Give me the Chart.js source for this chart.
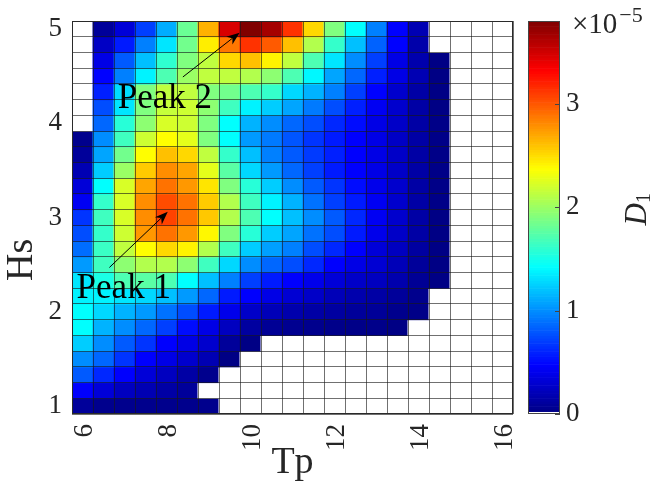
<!DOCTYPE html>
<html>
<head>
<meta charset="utf-8">
<script src="https://cdn.jsdelivr.net/npm/chart.js@4.4.1/dist/chart.umd.min.js"></script>
<style>
  html, body { margin: 0; padding: 0; background: #fff; }
  #wrap { width: 652px; height: 497px; }
</style>
</head>
<body>
<div id="wrap"><canvas id="heatCanvas"></canvas></div>
<script>
// Tp (s), one column each
const tpValues = [6, 6.5, 7, 7.5, 8, 8.5, 9, 9.5, 10, 10.5, 11, 11.5, 12, 12.5, 13, 13.5, 14, 14.5, 15, 15.5, 16];
// Hs (m), one row each, top row first
const hsValues = [5.000, 4.833, 4.667, 4.500, 4.333, 4.167, 4.000, 3.833, 3.667, 3.500, 3.333, 3.167,
                  3.000, 2.833, 2.667, 2.500, 2.333, 2.167, 2.000, 1.833, 1.667, 1.500, 1.333, 1.167, 1.000];

// D1 in units of 1e-5, rows follow hsValues, columns follow tpValues (null = no data, white)
const d1 = [
  [null, 0.10, 0.33, 0.71, 1.12, 1.82, 2.66, 3.47, 3.80, 3.66, 3.14, 2.52, 1.90, 1.43, 0.95, 0.48, 0.19, null, null, null, null],
  [null, 0.26, 0.57, 0.95, 1.33, 1.85, 2.44, 2.88, 3.14, 2.99, 2.61, 2.09, 1.62, 1.19, 0.84, 0.48, 0.16, null, null, null, null],
  [null, 0.38, 0.81, 1.19, 1.60, 1.90, 2.14, 2.52, 2.61, 2.42, 2.14, 1.71, 1.33, 1.00, 0.71, 0.38, 0.17, 0.02, null, null, null],
  [null, 0.48, 0.95, 1.38, 1.71, 2.00, 2.14, 2.14, 2.09, 1.95, 1.71, 1.40, 1.09, 0.86, 0.59, 0.38, 0.19, 0.02, null, null, null],
  [null, 0.59, 1.30, 1.90, 2.14, 2.14, 1.90, 1.85, 1.71, 1.62, 1.28, 1.14, 0.95, 0.71, 0.48, 0.29, 0.14, 0.02, null, null, null],
  [null, 0.76, 1.33, 1.90, 2.16, 2.19, 1.95, 1.66, 1.38, 1.24, 1.09, 0.93, 0.76, 0.59, 0.43, 0.29, 0.14, 0.02, null, null, null],
  [null, 0.86, 1.57, 1.95, 2.23, 2.19, 1.90, 1.43, 1.14, 1.00, 0.86, 0.76, 0.62, 0.52, 0.38, 0.27, 0.14, 0.03, null, null, null],
  [0.05, 1.00, 1.66, 2.19, 2.38, 2.28, 1.90, 1.43, 1.05, 0.93, 0.79, 0.67, 0.57, 0.47, 0.38, 0.26, 0.14, 0.03, null, null, null],
  [0.10, 1.09, 1.85, 2.38, 2.61, 2.52, 2.14, 1.62, 1.19, 0.95, 0.81, 0.69, 0.59, 0.47, 0.38, 0.27, 0.14, 0.03, null, null, null],
  [0.19, 1.24, 2.00, 2.57, 2.80, 2.71, 2.28, 1.76, 1.28, 1.05, 0.86, 0.71, 0.57, 0.47, 0.38, 0.27, 0.14, 0.03, null, null, null],
  [0.33, 1.43, 2.23, 2.71, 2.90, 2.76, 2.47, 1.90, 1.57, 1.24, 1.00, 0.81, 0.67, 0.52, 0.40, 0.29, 0.14, 0.03, null, null, null],
  [0.43, 1.62, 2.23, 2.80, 3.04, 2.90, 2.57, 2.09, 1.66, 1.38, 1.14, 0.90, 0.71, 0.57, 0.43, 0.29, 0.14, 0.03, null, null, null],
  [0.67, 1.66, 2.23, 2.80, 3.08, 2.90, 2.58, 2.09, 1.71, 1.43, 1.19, 1.00, 0.81, 0.62, 0.43, 0.29, 0.14, 0.02, null, null, null],
  [0.76, 1.62, 2.19, 2.76, 2.90, 2.76, 2.40, 1.90, 1.57, 1.24, 1.09, 0.90, 0.76, 0.57, 0.40, 0.27, 0.14, 0.02, null, null, null],
  [0.88, 1.64, 2.14, 2.38, 2.52, 2.42, 2.09, 1.66, 1.24, 1.07, 0.95, 0.76, 0.62, 0.47, 0.33, 0.24, 0.12, 0.02, null, null, null],
  [1.05, 1.66, 1.95, 2.09, 2.09, 1.95, 1.66, 1.28, 1.00, 0.86, 0.76, 0.62, 0.47, 0.38, 0.31, 0.21, 0.10, 0.02, null, null, null],
  [1.33, 1.52, 1.71, 1.76, 1.71, 1.43, 1.19, 0.95, 0.71, 0.57, 0.47, 0.40, 0.33, 0.27, 0.24, 0.17, 0.08, 0.02, null, null, null],
  [1.38, 1.38, 1.33, 1.28, 1.19, 1.05, 0.86, 0.57, 0.47, 0.38, 0.31, 0.27, 0.21, 0.17, 0.14, 0.10, 0.05, null, null, null, null],
  [1.43, 1.28, 1.14, 1.05, 0.90, 0.76, 0.57, 0.40, 0.27, 0.21, 0.17, 0.14, 0.12, 0.10, 0.09, 0.05, 0.03, null, null, null, null],
  [1.43, 1.14, 1.00, 0.86, 0.71, 0.52, 0.38, 0.24, 0.12, 0.08, 0.06, 0.05, 0.04, 0.03, 0.04, 0.02, null, null, null, null, null],
  [1.24, 1.00, 0.81, 0.67, 0.47, 0.38, 0.29, 0.10, 0.02, null, null, null, null, null, null, null, null, null, null, null, null],
  [1.00, 0.86, 0.67, 0.47, 0.38, 0.29, 0.19, 0.02, null, null, null, null, null, null, null, null, null, null, null, null, null],
  [0.81, 0.62, 0.47, 0.33, 0.24, 0.14, 0.05, null, null, null, null, null, null, null, null, null, null, null, null, null, null],
  [0.47, 0.33, 0.24, 0.19, 0.14, 0.10, null, null, null, null, null, null, null, null, null, null, null, null, null, null, null],
  [0.10, 0.05, 0.05, 0.05, 0.05, 0.05, 0.05, null, null, null, null, null, null, null, null, null, null, null, null, null, null]
];

const xTickLabels = [6, 8, 10, 12, 14, 16];
const yTickValues = [1, 2, 3, 4, 5];
const cbTickValues = [0, 1, 2, 3];
const vmax = 3.8; // top of the colour bar (x1e-5)

// annotations, given as [Tp, Hs]
const peakLabels = ['Peak 1', 'Peak 2'];
const peakTextAt = [[5.86, 2.15], [6.84, 4.16]];
const peakArrowFrom = [[6.64, 2.47], [8.39, 4.49]];
const peakArrowTo = [[8.03, 3.06], [9.74, 4.96]];

const serif = '"Liberation Serif", "Times New Roman", serif';
const textColor = '#262626';
const cellLine = 'rgba(25,25,25,0.62)';

function jetRgb(t) {
  const c = x => Math.round(255 * Math.min(1, Math.max(0, x)));
  return [c(1.5 - Math.abs(4 * t - 3)), c(1.5 - Math.abs(4 * t - 2)), c(1.5 - Math.abs(4 * t - 1))];
}
const toCss = rgb => `rgb(${rgb[0]},${rgb[1]},${rgb[2]})`;
const cellColor = v => v === null ? '#ffffff' : toCss(jetRgb(v / vmax));

const halfStep = (hsValues[0] - hsValues[1]) / 2;
const tpStep = tpValues[1] - tpValues[0];
// row edges for the cell grid
const hsEdges = hsValues.map(h => h + halfStep).concat([hsValues[hsValues.length - 1] - halfStep]);

const datasets = hsValues.map((hs, r) => ({
  label: 'Hs ' + hs,
  data: d1[r].map(() => [hs - halfStep, hs + halfStep]),
  backgroundColor: d1[r].map(cellColor),
  borderWidth: 0,
  inflateAmount: 0.5,
  grouped: false,
  categoryPercentage: 1,
  barPercentage: 1
}));

function drawArrow(ctx, x0, y0, x1, y1) {
  const ang = Math.atan2(y1 - y0, x1 - x0);
  const L = 13, W = 5;
  const cos = Math.cos(ang), sin = Math.sin(ang);
  const bx = x1 - L * cos, by = y1 - L * sin;
  ctx.beginPath();
  ctx.moveTo(x0, y0);
  ctx.lineTo(x1 - L * 0.7 * cos, y1 - L * 0.7 * sin);
  ctx.stroke();
  ctx.beginPath();
  ctx.moveTo(x1, y1);
  ctx.lineTo(bx + W * sin, by - W * cos);
  ctx.lineTo(x1 - L * 0.7 * cos, y1 - L * 0.7 * sin);
  ctx.lineTo(bx - W * sin, by + W * cos);
  ctx.closePath();
  ctx.fill();
}

// vertical axes: keep label padding from pushing the plot down
function noPad(s) {
  s.paddingTop = 0;
  s.paddingBottom = 0;
}

const overlay = {
  id: 'overlay',
  afterDraw(chart) {
    const { ctx, chartArea: a, scales } = chart;
    const px = tp => scales.x.getPixelForValue((tp - tpValues[0]) / tpStep);
    const py = hs => scales.y.getPixelForValue(hs);
    ctx.save();
    ctx.strokeStyle = '#2a2a2a';
    ctx.lineWidth = 1;
    ctx.strokeRect(Math.round(a.left) + 0.5, Math.round(a.top) + 0.5,
                   Math.round(a.right - a.left) - 1, Math.round(a.bottom - a.top) - 1);

    // peak notes
    ctx.fillStyle = '#000';
    ctx.strokeStyle = '#000';
    ctx.font = '35px ' + serif;
    ctx.textAlign = 'left';
    ctx.textBaseline = 'alphabetic';
    peakLabels.forEach((txt, i) => {
      drawArrow(ctx, px(peakArrowFrom[i][0]), py(peakArrowFrom[i][1]), px(peakArrowTo[i][0]), py(peakArrowTo[i][1]));
      ctx.fillText(txt, px(peakTextAt[i][0]), py(peakTextAt[i][1]));
    });

    // y axis title, a little below the middle as in the figure
    ctx.save();
    ctx.translate(22, py(2.55));
    ctx.rotate(-Math.PI / 2);
    ctx.fillStyle = textColor;
    ctx.textAlign = 'center';
    ctx.textBaseline = 'middle';
    ctx.font = '38px ' + serif;
    ctx.fillText('Hs', 0, 0);
    ctx.restore();

    // colour bar
    const cb = scales.cb;
    const x0 = a.right + 15, x1 = a.right + 47;
    const levels = 150;
    for (let i = 0; i < levels; i++) {
      const yTop = cb.getPixelForValue(vmax * (i + 1) / levels);
      const yBot = cb.getPixelForValue(vmax * i / levels);
      ctx.fillStyle = i === 0 ? '#fff' : toCss(jetRgb((i + 0.5) / levels));
      ctx.fillRect(x0, yTop, x1 - x0, yBot - yTop + 0.6);
    }
    ctx.strokeStyle = '#444';
    ctx.lineWidth = 1;
    ctx.strokeRect(Math.round(x0) + 0.5, Math.round(cb.top) + 0.5, Math.round(x1 - x0) - 1, Math.round(cb.bottom - cb.top) - 1);
    cbTickValues.forEach(v => {
      const y = Math.round(cb.getPixelForValue(v)) + 0.5;
      ctx.beginPath();
      ctx.moveTo(x1 - 5, y);
      ctx.lineTo(x1, y);
      ctx.stroke();
    });

    // exponent above the colour bar
    ctx.fillStyle = textColor;
    ctx.textAlign = 'left';
    ctx.textBaseline = 'alphabetic';
    ctx.font = '29px ' + serif;
    const ex = a.right + 59, ey = a.top + 12;
    ctx.fillText('×10', ex, ey);
    const w = ctx.measureText('×10').width;
    ctx.font = '22px ' + serif;
    ctx.fillText('−5', ex + w + 2, ey - 11);

    // colour bar label D1, rotated
    ctx.translate(a.right + 133, (cb.top + cb.bottom) / 2 + 8);
    ctx.rotate(-Math.PI / 2);
    ctx.font = 'italic 31px ' + serif;
    ctx.fillText('D', 0, 0);
    const wd = ctx.measureText('D').width;
    ctx.font = '20px ' + serif;
    ctx.fillText('1', wd, 4);
    ctx.restore();
  }
};

new Chart(document.getElementById('heatCanvas').getContext('2d'), {
  type: 'bar',
  data: { labels: tpValues, datasets: datasets },
  options: {
    responsive: true,
    maintainAspectRatio: false,
    animation: false,
    layout: { padding: { top: 21, left: 0, right: 0, bottom: 0 } },
    plugins: { legend: { display: false }, tooltip: { enabled: false } },
    scales: {
      x: {
        type: 'category',
        offset: true,
        grid: { display: true, offset: true, drawTicks: false, color: cellLine, lineWidth: 1, z: 1 },
        border: { display: false },
        ticks: {
          autoSkip: false,
          minRotation: 90,
          maxRotation: 90,
          padding: 10,
          labelOffset: 2,
          color: textColor,
          font: { family: serif, size: 27 },
          callback: (val, i) => xTickLabels.includes(tpValues[i]) ? String(tpValues[i]) : ''
        },
        title: { display: true, text: 'Tp', color: textColor, font: { family: serif, size: 38 }, padding: { top: 0, bottom: 11 } },
        afterFit: s => { s.height = 83; s.paddingLeft = 0; s.paddingRight = 0; }
      },
      y: {
        type: 'linear',
        min: hsEdges[hsEdges.length - 1],
        max: hsEdges[0],
        afterBuildTicks: s => { s.ticks = yTickValues.map(v => ({ value: v })); },
        grid: { display: false, drawTicks: false },
        border: { display: false },
        ticks: { padding: 10, color: textColor, font: { family: serif, size: 27 } },
        afterFit: s => { s.width = 72; noPad(s); }
      },
      // row edges only: draws the horizontal cell lines
      yEdges: {
        type: 'linear',
        position: 'left',
        min: hsEdges[hsEdges.length - 1],
        max: hsEdges[0],
        afterBuildTicks: s => { s.ticks = hsEdges.map(v => ({ value: v })); },
        grid: { display: true, drawTicks: false, color: cellLine, lineWidth: 1, z: 1 },
        border: { display: false },
        ticks: { display: false },
        afterFit: s => { s.width = 0; noPad(s); }
      },
      cb: {
        type: 'linear',
        position: 'right',
        min: 0,
        max: vmax,
        afterBuildTicks: s => { s.ticks = cbTickValues.map(v => ({ value: v })); },
        grid: { display: false, drawTicks: false },
        border: { display: false },
        ticks: { padding: 53, color: textColor, font: { family: serif, size: 27 } },
        afterFit: s => { s.width = 139; noPad(s); }
      }
    }
  },
  plugins: [overlay]
});
</script>
</body>
</html>
